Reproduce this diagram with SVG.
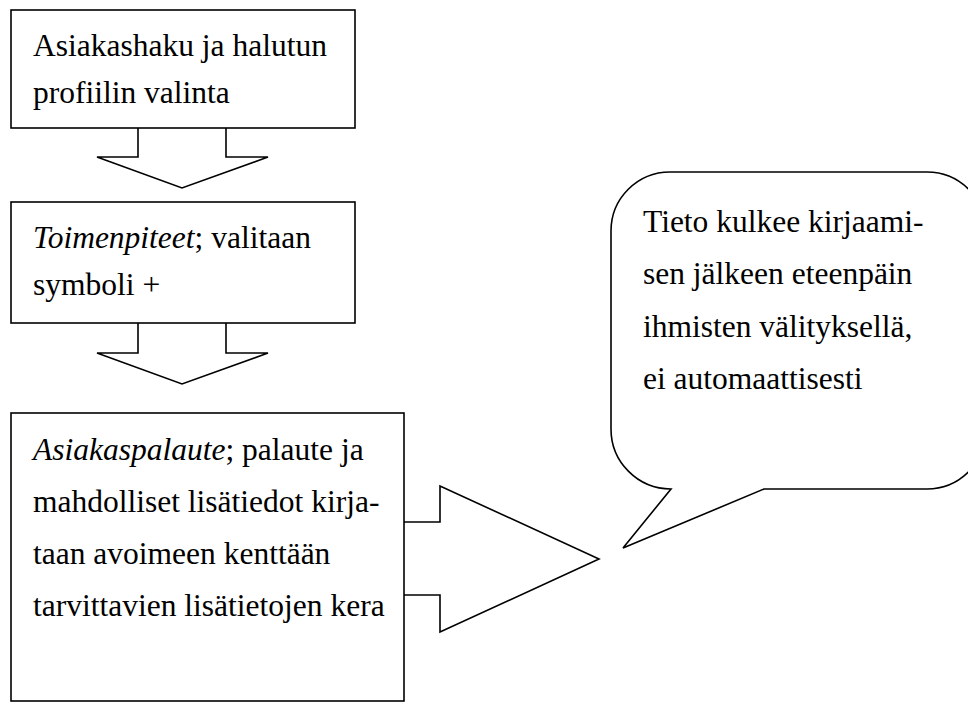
<svg xmlns="http://www.w3.org/2000/svg" width="968" height="704" viewBox="0 0 968 704">
<style>
.box{fill:#fff;stroke:#000;stroke-width:1.6}
.arr{fill:#fff;stroke:#000;stroke-width:1.6;stroke-linejoin:miter}
.t{font-family:"Liberation Serif","DejaVu Serif",serif;font-size:31.5px;fill:#000}
.it{font-style:italic}
</style>
<rect width="968" height="704" fill="#fff"/>
<g id="connectors">
<polyline class="arr" points="138,128 138,157 97,157 182,188 268,157 226,157 226,128"/>
<polyline class="arr" points="138,323 138,353 97,353 182,384 268,353 226,353 226,323"/>
<polyline class="arr" points="404,522 440,522 440,486 599,559 440,632 440,595 404,595"/>
</g>
<g id="node1">
<rect class="box" x="11" y="10" width="344" height="118"/>
<text class="t" x="33" y="56">Asiakashaku ja halutun</text>
<text class="t" x="33" y="103">profiilin valinta</text>
</g>
<g id="node2">
<rect class="box" x="11" y="202" width="344" height="121"/>
<text class="t" x="33" y="248"><tspan class="it">Toimenpiteet</tspan>; valitaan</text>
<text class="t" x="33" y="295">symboli +</text>
</g>
<g id="node3">
<rect class="box" x="11" y="413" width="393" height="288"/>
<text class="t" x="33" y="460"><tspan class="it">Asiakaspalaute</tspan>; palaute ja</text>
<text class="t" x="33" y="512">mahdolliset lisätiedot kirja-</text>
<text class="t" x="33" y="564">taan avoimeen kenttään</text>
<text class="t" x="33" y="616">tarvittavien lisätietojen kera</text>
</g>
<g id="callout">
<path class="box" d="M611,231 A59,59 0 0 1 670,172 L927,172 A59,59 0 0 1 986,231 L986,430 A59,59 0 0 1 927,489 L764,489 L623,548 L671,489 A60,60 0 0 1 611,429 Z"/>
<text class="t" x="643" y="232">Tieto kulkee kirjaami-</text>
<text class="t" x="643" y="284">sen jälkeen eteenpäin</text>
<text class="t" x="643" y="337">ihmisten välityksellä,</text>
<text class="t" x="643" y="389">ei automaattisesti</text>
</g>
</svg>
